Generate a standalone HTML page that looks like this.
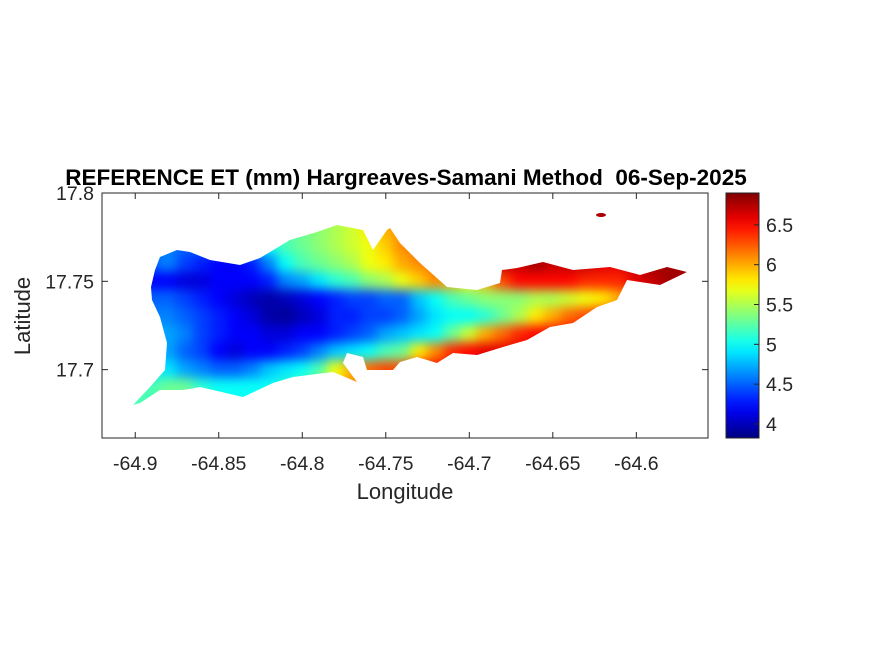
<!DOCTYPE html>
<html><head><meta charset="utf-8">
<style>
body{margin:0;background:#fff;width:875px;height:656px;overflow:hidden}
svg text{font-family:"Liberation Sans",Arial,sans-serif;fill:#262626}
</style></head>
<body>
<svg id="chart" width="875" height="656" viewBox="0 0 875 656" xmlns="http://www.w3.org/2000/svg">
<defs>
<filter id="blur" x="-5%" y="-5%" width="110%" height="110%" color-interpolation-filters="sRGB">
<feGaussianBlur stdDeviation="5.5"/>
</filter>
<clipPath id="island">
<polygon points="133,405 150,387 165,370 167,343 160,317 152,300 151,287 155,270 160,257 177,250 190,252 210,260 240,265 260,258 290,240 317,232 337,225 363,230 373,250 387,230 390,228 400,243 420,263 447,287 477,290 500,283 502,270 517,268 543,262 573,270 610,267 640,275 667,267 687,272 660,285 627,280 617,300 597,307 573,323 550,327 527,340 503,347 477,355 453,353 437,363 417,357 400,362 393,370 367,370 363,357 347,353 343,363 357,382 333,372 293,377 273,383 243,397 200,387 183,390 160,390 140,403"/>
<ellipse cx="601" cy="215" rx="5" ry="2"/>
</clipPath>
<linearGradient id="jetgrad" x1="0" y1="1" x2="0" y2="0"></linearGradient>
</defs>
<text x="406" y="185" text-anchor="middle" font-size="22.5" font-weight="bold" style="fill:#000;white-space:pre" xml:space="preserve">REFERENCE ET (mm) Hargreaves-Samani Method  06-Sep-2025</text>
<rect x="102" y="193" width="606" height="245" fill="#fff"/>
<g clip-path="url(#island)">
<g id="cells" filter="url(#blur)"></g>
</g>
<rect x="102" y="193" width="606" height="245" fill="none" stroke="#262626" stroke-width="1"/>
<g id="xticks"></g><g id="yticks"></g>
<text x="405" y="499" text-anchor="middle" font-size="22">Longitude</text>
<text transform="translate(30,316) rotate(-90)" text-anchor="middle" font-size="22">Latitude</text>
<rect x="726" y="193" width="33" height="245" fill="url(#jetgrad)" stroke="#262626" stroke-width="1"/>
<g id="cticks"></g>
</svg>
<script>
const lons=[-64.90,-64.89,-64.88,-64.87,-64.86,-64.85,-64.84,-64.83,-64.82,-64.81,-64.80,-64.79,-64.78,-64.77,-64.76,-64.75,-64.74,-64.73,-64.72,-64.71,-64.70,-64.69,-64.68,-64.67,-64.66,-64.65,-64.64,-64.63,-64.62,-64.61,-64.60,-64.59,-64.58,-64.57];
const lats=[17.79,17.78,17.77,17.76,17.75,17.74,17.73,17.72,17.71,17.70,17.69,17.68];
const etRow0=[4.6,4.6,4.6,4.6,4.6,4.7,4.8,5.0,5.1,5.2,5.3,5.4,5.5,5.6,5.8,6.0,6.1,6.2,6.3,6.4,6.5,6.6,6.7,6.7,6.7,6.7,6.8,6.8,6.8,6.8,6.8,6.8,6.8,6.8];
const etRow1=[4.6,4.6,4.6,4.6,4.6,4.6,4.7,4.9,5.1,5.2,5.3,5.4,5.5,5.6,5.8,6.0,6.1,6.2,6.3,6.4,6.5,6.6,6.7,6.7,6.7,6.7,6.7,6.7,6.7,6.7,6.7,6.8,6.8,6.8];
const etRow2=[4.6,4.6,4.6,4.5,4.5,4.5,4.6,4.8,5.0,5.2,5.3,5.4,5.5,5.6,5.7,5.9,6.1,6.2,6.3,6.4,6.5,6.6,6.7,6.7,6.7,6.7,6.7,6.7,6.7,6.7,6.7,6.8,6.8,6.8];
const etRow3=[4.5,4.5,4.6,4.4,4.3,4.2,4.2,4.3,4.6,5.0,5.2,5.3,5.4,5.5,5.7,5.8,6.0,6.1,6.2,6.3,6.5,6.7,6.7,6.7,6.8,6.7,6.7,6.7,6.6,6.6,6.7,6.8,6.8,6.8];
const etRow4=[4.2,4.2,4.2,4.1,4.1,4.2,4.2,4.2,4.3,4.6,4.7,4.9,5.1,5.2,5.4,5.5,5.7,5.9,6.1,6.0,5.8,6.0,6.3,6.5,6.5,6.5,6.5,6.4,6.4,6.4,6.6,6.7,6.8,6.8];
const etRow5=[4.5,4.5,4.5,4.4,4.3,4.2,4.1,4.0,3.95,4.0,4.1,4.2,4.3,4.4,4.4,4.5,4.5,4.8,5.0,5.2,5.3,5.4,5.4,5.4,5.5,5.5,5.6,5.7,5.8,6.0,6.3,6.5,6.6,6.7];
const etRow6=[4.6,4.6,4.6,4.5,4.4,4.3,4.2,4.1,3.95,3.9,4.0,4.1,4.3,4.3,4.4,4.4,4.5,4.7,4.9,5.0,5.0,5.1,5.3,5.5,5.8,6.0,6.2,6.3,6.4,6.4,6.4,6.5,6.6,6.7];
const etRow7=[4.8,4.8,4.7,4.6,4.4,4.3,4.2,4.2,4.1,4.1,4.2,4.2,4.3,4.4,4.5,4.7,4.8,4.9,5.0,5.3,5.6,6.0,6.2,6.4,6.5,6.5,6.5,6.5,6.5,6.5,6.5,6.5,6.5,6.5];
const etRow8=[4.8,4.7,4.7,4.5,4.4,4.2,4.1,4.2,4.2,4.3,4.4,4.6,4.8,4.9,5.0,5.2,5.3,5.8,6.1,6.4,6.5,6.6,6.6,6.6,6.6,6.6,6.6,6.6,6.6,6.6,6.6,6.6,6.6,6.6];
const etRow9=[4.9,4.9,4.9,4.7,4.6,4.5,4.5,4.6,4.8,4.9,5.0,5.2,5.7,6.0,6.2,6.3,6.3,6.4,6.5,6.5,6.5,6.5,6.5,6.5,6.5,6.5,6.5,6.5,6.5,6.5,6.5,6.5,6.5,6.5];
const etRow10=[5.2,5.2,5.3,5.3,5.1,5.0,5.0,5.0,5.0,5.1,5.2,5.4,5.8,6.1,6.2,6.3,6.3,6.4,6.5,6.5,6.5,6.5,6.5,6.5,6.5,6.5,6.5,6.5,6.5,6.5,6.5,6.5,6.5,6.5];
const etRow11=[5.2,5.2,5.3,5.3,5.2,5.1,5.0,5.0,5.1,5.2,5.3,5.5,5.8,6.1,6.2,6.3,6.3,6.4,6.5,6.5,6.5,6.5,6.5,6.5,6.5,6.5,6.5,6.5,6.5,6.5,6.5,6.5,6.5,6.5];
const etGrid=[etRow0,etRow1,etRow2,etRow3,etRow4,etRow5,etRow6,etRow7,etRow8,etRow9,etRow10,etRow11];
const xTicks=[-64.9,-64.85,-64.8,-64.75,-64.7,-64.65,-64.6];
const xTickLabels=["-64.9","-64.85","-64.8","-64.75","-64.7","-64.65","-64.6"];
const yTicks=[17.7,17.75,17.8];
const yTickLabels=["17.7","17.75","17.8"];
const cTicks=[4,4.5,5,5.5,6,6.5];
const cTickLabels=["4","4.5","5","5.5","6","6.5"];
const cMin=3.824,cMax=6.9;

const NS='http://www.w3.org/2000/svg';
const X0=102,X1=708,Y0=193,Y1=438;
const xMin=-64.9199,xMax=-64.5571,yMin=17.6613,yMax=17.8;
function xs(v){return X0+(v-xMin)/(xMax-xMin)*(X1-X0);}
function ys(v){return Y1-(v-yMin)/(yMax-yMin)*(Y1-Y0);}
function cs(v){return Y1-(v-cMin)/(cMax-cMin)*(Y1-Y0);}
function jet(t){
  t=Math.max(0,Math.min(1,t));
  const r=Math.max(0,Math.min(1,1.5-Math.abs(4*t-3)));
  const g=Math.max(0,Math.min(1,1.5-Math.abs(4*t-2)));
  const b=Math.max(0,Math.min(1,1.5-Math.abs(4*t-1)));
  return 'rgb('+Math.round(r*255)+','+Math.round(g*255)+','+Math.round(b*255)+')';
}
function mk(tag,attrs,parent){const e=document.createElementNS(NS,tag);for(const k in attrs)e.setAttribute(k,attrs[k]);parent.appendChild(e);return e;}

const cells=document.getElementById('cells');
const dx=Math.abs(xs(lons[1])-xs(lons[0])), dy=Math.abs(ys(lats[1])-ys(lats[0]));
etGrid.forEach((row,i)=>{
  row.forEach((v,j)=>{
    const r=mk('rect',{x:xs(lons[j])-dx/2-0.5,y:ys(lats[i])-dy/2-0.5,width:dx+1,height:dy+1,fill:jet((v-cMin)/(cMax-cMin))},cells);
    
    
  });
});

const grad=document.getElementById('jetgrad');
for(let k=0;k<=20;k++){mk('stop',{offset:(k/20),'stop-color':jet(k/20)},grad);}

const xg=document.getElementById('xticks');
xTicks.forEach((v,i)=>{
  const x=xs(v);
  mk('line',{x1:x,x2:x,y1:Y1,y2:Y1-6,stroke:'#262626'},xg);
  mk('line',{x1:x,x2:x,y1:Y0,y2:Y0+6,stroke:'#262626'},xg);
  const t=mk('text',{x:x,y:Y1+32,'text-anchor':'middle','font-size':'19.5'},xg);
  t.textContent=xTickLabels[i];
  
  
});
const yg=document.getElementById('yticks');
yTicks.forEach((v,i)=>{
  const y=ys(v);
  mk('line',{x1:X0,x2:X0+6,y1:y,y2:y,stroke:'#262626'},yg);
  mk('line',{x1:X1,x2:X1-6,y1:y,y2:y,stroke:'#262626'},yg);
  const t=mk('text',{x:X0-8,y:y+7,'text-anchor':'end','font-size':'19.5'},yg);
  t.textContent=yTickLabels[i];
  
  
});
const cg=document.getElementById('cticks');
cTicks.forEach((v,i)=>{
  const y=cs(v);
  mk('line',{x1:759,x2:754,y1:y,y2:y,stroke:'#262626'},cg);
  const t=mk('text',{x:766,y:y+7,'font-size':'19.5'},cg);
  t.textContent=cTickLabels[i];
  
  
});
</script>
</body></html>
